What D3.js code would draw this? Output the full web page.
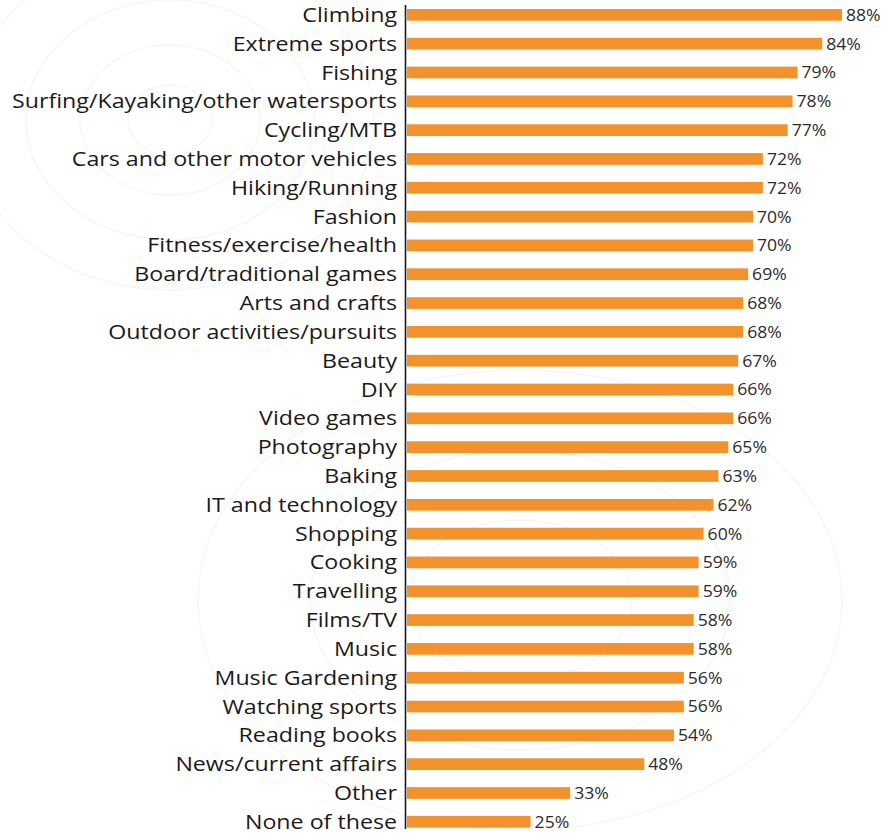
<!DOCTYPE html>
<html>
<head>
<meta charset="utf-8">
<script src="https://cdn.jsdelivr.net/npm/d3@7"></script>
<style>
  html, body { margin: 0; padding: 0; background: #ffffff; }
  svg { display: block; }
</style>
</head>
<body>
<svg id="chart" width="886" height="836"></svg>
<script>
// Share of respondents interested in each hobby / topic
const categories = [
  "Climbing", "Extreme sports", "Fishing", "Surfing/Kayaking/other watersports",
  "Cycling/MTB", "Cars and other motor vehicles", "Hiking/Running", "Fashion",
  "Fitness/exercise/health", "Board/traditional games", "Arts and crafts",
  "Outdoor activities/pursuits", "Beauty", "DIY", "Video games", "Photography",
  "Baking", "IT and technology", "Shopping", "Cooking", "Travelling", "Films/TV",
  "Music", "Music Gardening", "Watching sports", "Reading books",
  "News/current affairs", "Other", "None of these"
];
const values = [
  88, 84, 79, 78, 77, 72, 72, 70, 70, 69, 68, 68, 67, 66, 66, 65,
  63, 62, 60, 59, 59, 58, 58, 56, 56, 54, 48, 33, 25
];

const width = 886, height = 836;
const svg = d3.select("#chart");

// faint decorative contour lines in the background
const deco = svg.append("g").attr("fill", "none").attr("stroke", "#f6f6f6").attr("stroke-width", 1.5);
[35, 75, 120, 170].forEach(r => deco.append("ellipse").attr("cx", 170).attr("cy", 120).attr("rx", r * 1.2).attr("ry", r));
[80, 150, 230].forEach(r => deco.append("ellipse").attr("cx", 520).attr("cy", 600).attr("rx", r * 1.4).attr("ry", r));

const x = d3.scaleLinear().domain([0, 88]).range([407, 842]);
const y = d3.scaleBand().domain(categories).range([0.35, 836.3]).paddingInner(0.594).paddingOuter(0.3);

// wide, light lettering: stretch glyphs horizontally
const labelStretch = 1.19, valueStretch = 1.1;

// bars
svg.append("g").selectAll("rect")
  .data(values)
  .join("rect")
  .attr("x", x(0))
  .attr("y", (d, i) => y(categories[i]))
  .attr("width", d => x(d) - x(0))
  .attr("height", y.bandwidth())
  .attr("fill", "#F3922B");

// value labels
svg.append("g").selectAll("text")
  .data(values)
  .join("text")
  .attr("transform", (d, i) => `translate(${x(d) + 4},${y(categories[i]) + y.bandwidth() / 2}) scale(${valueStretch},1)`)
  .attr("dy", "0.37em")
  .attr("font-family", "'Open Sans', sans-serif")
  .attr("font-size", 16)
  .attr("fill", "#2b2b2b")
  .text(d => d + "%");

// category axis
const axis = svg.append("g")
  .attr("transform", `translate(${x(0) - 1.5},0)`)
  .call(d3.axisLeft(y).tickSize(0).tickPadding(8));
axis.select(".domain").attr("stroke", "#1a1a1a").attr("stroke-width", 1.6)
  .attr("d", "M0,5V829");
axis.selectAll("text")
  .attr("x", -8.5 / labelStretch)
  .attr("transform", `scale(${labelStretch},1)`)
  .attr("font-family", "'Open Sans', sans-serif")
  .attr("font-size", 19.5)
  .attr("dy", "0.36em")
  .attr("fill", "#1a1a1a");
</script>
</body>
</html>
